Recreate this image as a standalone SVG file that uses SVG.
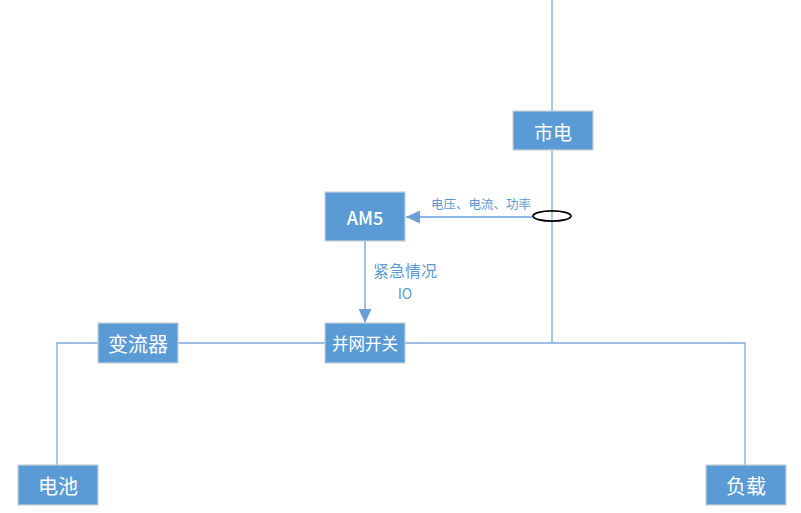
<svg xmlns="http://www.w3.org/2000/svg" width="801" height="513" viewBox="0 0 801 513">
<style>
.box{fill:#5B9BD5;stroke:#C9CED6;stroke-width:1.2}
.bt{fill:#FFFFFF;font-family:"Noto Sans CJK SC","Noto Sans",sans-serif;text-anchor:middle;dominant-baseline:central}
.ln{fill:none;stroke:#7FA8DA;stroke-width:1.3}
.ar{fill:none;stroke:#6A9FD8;stroke-width:1.3}
.lt{fill:#5B9BD5;font-family:"Noto Sans CJK SC","Noto Sans",sans-serif;text-anchor:middle}
</style>
<defs>
<marker id="ah" markerWidth="14" markerHeight="13" refX="14" refY="6.5" orient="auto" markerUnits="userSpaceOnUse">
<path d="M0,0 L14,6.5 L0,13 Z" fill="#6A9FD8"/>
</marker>
</defs>
<rect width="801" height="513" fill="#FFFFFF"/>
<g id="connectors">
<path class="ln" d="M552,0 V343"/>
<path class="ln" d="M57,465 V343 H745 V465"/>
<path class="ar" d="M532,217 H406" marker-end="url(#ah)"/>
<path class="ar" d="M365,241 V323" marker-end="url(#ah)"/>
<ellipse cx="552" cy="216" rx="19" ry="5.2" fill="none" stroke="#000000" stroke-width="1.8"/>
<text class="lt" x="481" y="209" font-size="12.5">电压、电流、功率</text>
<text class="lt" x="405" y="277" font-size="16">紧急情况</text>
<text class="lt" x="405" y="299" font-size="14">IO</text>
</g>
<g id="grid">
<rect class="box" x="513" y="111" width="80" height="39"/>
<text class="bt" x="553" y="131" font-size="19">市电</text>
</g>
<g id="am5">
<rect class="box" x="325" y="192" width="80" height="49"/>
<text class="bt" x="365" y="217" font-size="18" font-weight="500">AM5</text>
</g>
<g id="switch">
<rect class="box" x="325" y="323" width="80" height="40"/>
<text class="bt" x="365" y="343" font-size="16.5">并网开关</text>
</g>
<g id="inverter">
<rect class="box" x="98" y="323" width="80" height="40"/>
<text class="bt" x="138" y="343" font-size="20">变流器</text>
</g>
<g id="battery">
<rect class="box" x="18" y="465" width="80" height="40"/>
<text class="bt" x="58" y="485" font-size="20">电池</text>
</g>
<g id="load">
<rect class="box" x="706" y="465" width="80" height="40"/>
<text class="bt" x="746" y="485" font-size="20">负载</text>
</g>
</svg>
